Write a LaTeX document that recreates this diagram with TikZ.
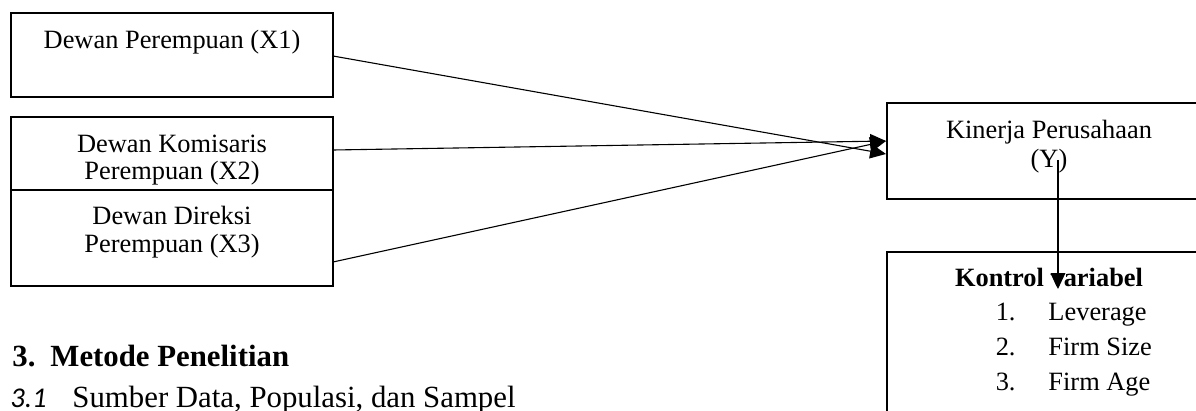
\documentclass[tikz,border=0pt]{standalone}
\usepackage{fontspec}
\setmainfont{Liberation Serif}
\newfontfamily\carl{Carlito}
\usetikzlibrary{arrows.meta,calc}
\def\u{0.4545pt}
\begin{document}
\begin{tikzpicture}[x=0.4545pt,y=-0.4545pt,
  box/.style={draw, line width=0.6pt, fill=white, inner sep=0pt, outer sep=0pt, anchor=north west},
  txt/.style={font=\fontsize{12}{14}\selectfont, inner sep=0pt, anchor=base},
  big/.style={font=\fontsize{14}{16}\selectfont, inner sep=0pt, anchor=base west},
  conn/.style={line width=0.5pt, -{Triangle[length=7.2pt,width=6.6pt]}}]
\useasboundingbox (0,0) rectangle (1196,411);
\clip (0,0) rectangle (1196,411);
% boxes
\node[box, minimum width=322*\u, minimum height=84*\u] (x1) at (11,13) {};
\node[box, minimum width=322*\u, minimum height=95*\u] (x2) at (11,117) {};
\node[box, minimum width=322*\u, minimum height=96*\u] (x3) at (11,190) {};
\node[box, minimum width=340*\u, minimum height=96*\u] (y) at (887,103) {};
\node[box, minimum width=340*\u, minimum height=180*\u] (k) at (887,252) {};
% connection points
\coordinate (x1out) at ($(x1.north east)+(0,43)$);
\coordinate (x2out) at ($(x2.north east)+(0,33)$);
\coordinate (x3out) at ($(x3.north east)+(0,72)$);
\coordinate (yinA) at ($(y.north west)+(-1,38)$);
\coordinate (yinB) at ($(y.north west)+(-1,51)$);
\coordinate (ysrc) at (1058,160);
\coordinate (kin) at (1058,289);
% texts
\node[txt] (t1) at (172,49) {Dewan Perempuan (X1)};
\node[txt] (t2a) at (172,152) {Dewan Komisaris};
\node[txt] (t2b) at (172,180) {Perempuan (X2)};
\node[txt] (t3a) at (172,224) {Dewan Direksi};
\node[txt] (t3b) at (172,252) {Perempuan (X3)};
\node[txt] (ty1) at (1049,139) {Kinerja Perusahaan};
\node[txt] (ty2) at (1049,168) {(Y)};
\node[txt, font=\fontsize{12}{14}\selectfont\bfseries] (kt) at (1049,286) {Kontrol variabel};
\node[txt, anchor=base east] (k1n) at (1016,320) {1.};
\node[txt, anchor=base west] (k1) at (1048,320) {Leverage};
\node[txt, anchor=base east] (k2n) at (1016,355) {2.};
\node[txt, anchor=base west] (k2) at (1048,355) {Firm Size};
\node[txt, anchor=base east] (k3n) at (1016,390) {3.};
\node[txt, anchor=base west] (k3) at (1048,390) {Firm Age};
\node[big, font=\fontsize{14}{16}\selectfont\bfseries] (h1) at (12,366) {3.};
\node[big, font=\fontsize{14}{16}\selectfont\bfseries] (h2) at (50,366) {Metode Penelitian};
\node[big, font=\fontsize{13}{16}\selectfont\carl\itshape] (s1) at (10,407) {3.1};
\node[big] (s2) at (72,407) {Sumber Data, Populasi, dan Sampel};
% connectors
\draw[conn] (x1out) -- (yinB);
\draw[conn] (x2out) -- (yinA);
\draw[conn] (x3out) -- (yinA);
\draw[conn] (ysrc) -- (kin);
\end{tikzpicture}
\end{document}
